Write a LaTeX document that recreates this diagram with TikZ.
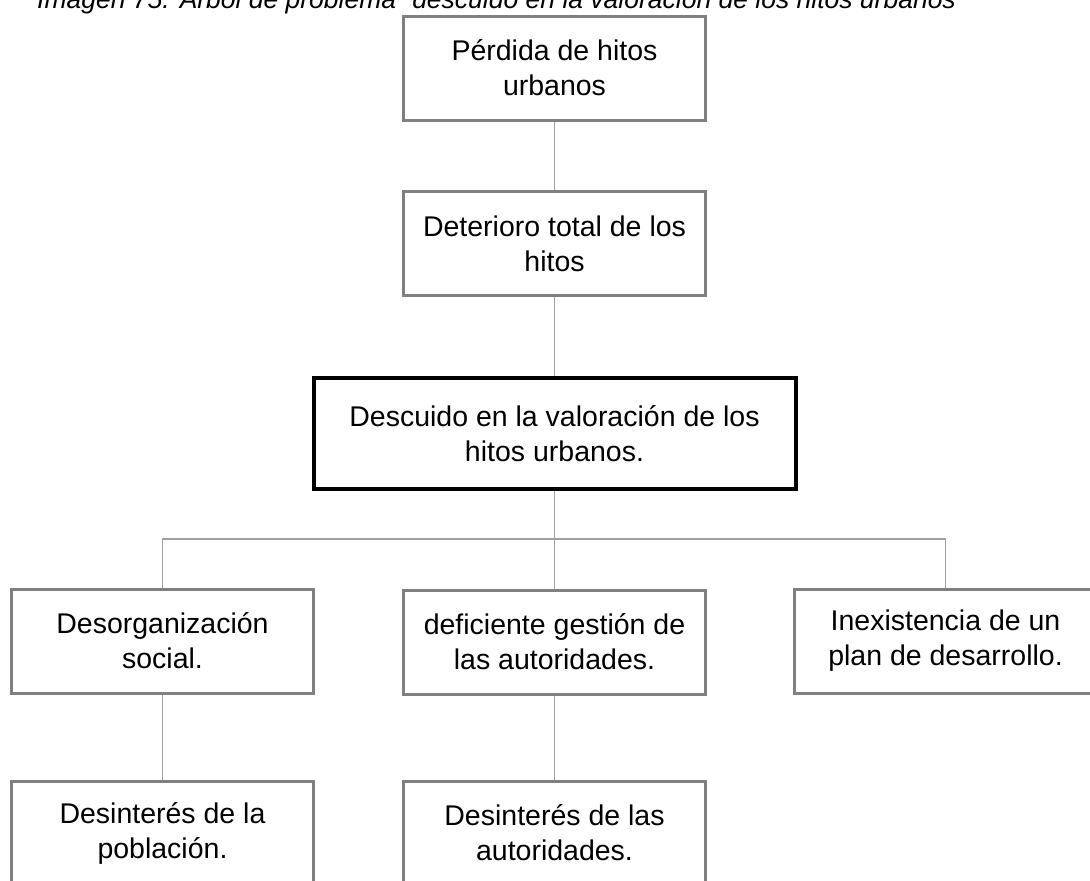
\documentclass[tikz,border=0pt]{standalone}
\usepackage{fontspec}
\setmainfont{Liberation Sans}
\usetikzlibrary{positioning}
\definecolor{boxgray}{HTML}{808080}
\definecolor{linegray}{HTML}{A0A0A0}
\tikzset{
  prob/.style={rectangle, draw=boxgray, line width=3pt, align=center,
               font=\fontsize{28.5}{35}\selectfont, inner sep=0pt,
               minimum width=302pt, minimum height=104pt, fill=white},
  core/.style={prob, draw=black, line width=4pt,
               minimum width=482pt, minimum height=111pt},
  conn/.style={draw=linegray, line width=1.5pt},
  caption/.style={font=\fontsize{26.5}{32}\selectfont\itshape, inner sep=0pt}
}
\begin{document}
\begin{tikzpicture}[x=1pt,y=-1pt]
  \clip (0,0) rectangle (1090,881);
  \node[caption, anchor=base west] (cap) at (37,8)
    {Imagen 75. Árbol de problema "descuido en la valoración de los hitos urbanos};
  % effects
  \node[prob] (perdida) at (554.5,68) {Pérdida de hitos\\urbanos};
  \node[prob] (deterioro) at (554.5,243.5) {Deterioro total de los\\hitos};
  % central problem
  \node[core] (descuido) at (554.5,433.5) {Descuido en la valoración de los\\hitos urbanos.};
  % causes
  \node[prob] (desorg) at (162.5,641) {Desorganización\\social.};
  \node[prob] (gestion) at (554.5,642) {deficiente gestión de\\las autoridades.};
  \node[prob] (plan) at (945.5,641) {Inexistencia de un\\plan de desarrollo.};
  \node[prob] (despob) at (162.5,833) {Desinterés de la\\población.};
  \node[prob] (desaut) at (554.5,833) {Desinterés de las\\autoridades.};
  \coordinate (bus) at (554.5,539);
  \draw[conn] (perdida.south) -- (deterioro.north);
  \draw[conn] (deterioro.south) -- (descuido.north);
  \draw[conn] (descuido.south) -- (bus);
  \draw[conn] (bus) -| (desorg.north);
  \draw[conn] (bus) -- (gestion.north);
  \draw[conn] (bus) -| (plan.north);
  \draw[conn] (desorg.south) -- (despob.north);
  \draw[conn] (gestion.south) -- (desaut.north);
\end{tikzpicture}
\end{document}
